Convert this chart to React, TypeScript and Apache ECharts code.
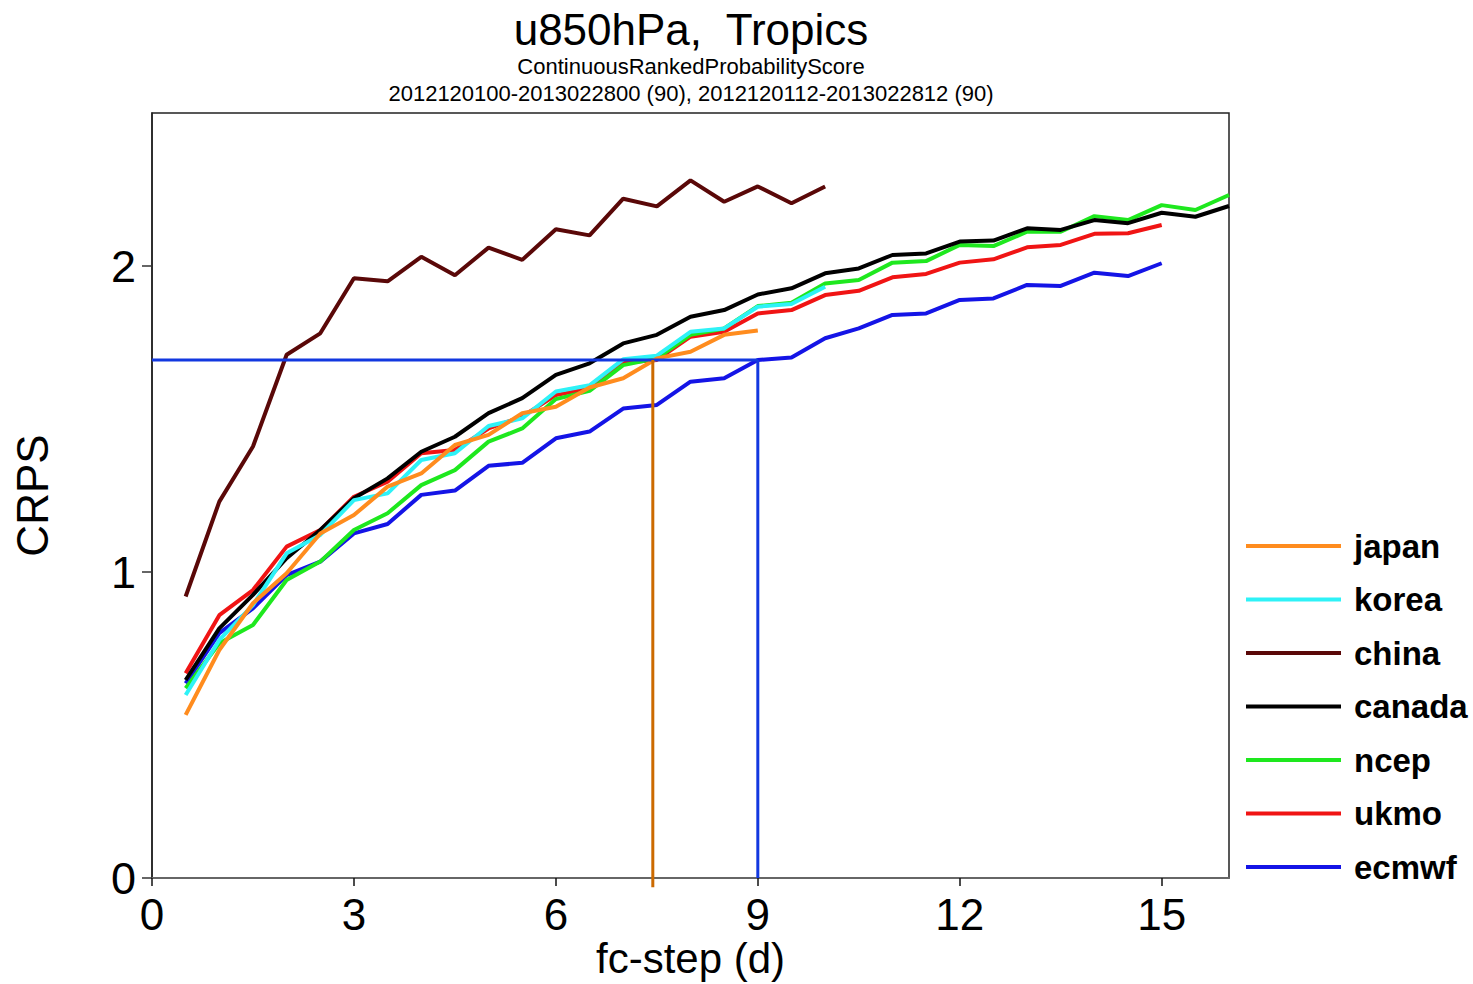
import React, { useEffect, useRef } from "react";
import * as echarts from "echarts";

const FONT = "'Liberation Sans', Arial, Helvetica, sans-serif";

// forecast step (days)
const DAYS = [0.5, 1, 1.5, 2, 2.5, 3, 3.5, 4, 4.5, 5, 5.5, 6, 6.5, 7, 7.5, 8, 8.5, 9, 9.5, 10, 10.5, 11, 11.5, 12, 12.5, 13, 13.5, 14, 14.5, 15, 15.5, 16];

const JAPAN = [0.533, 0.745, 0.898, 0.996, 1.126, 1.186, 1.279, 1.322, 1.415, 1.448, 1.519, 1.54, 1.603, 1.633, 1.698, 1.72, 1.775, 1.789];
const KOREA = [0.598, 0.778, 0.892, 1.061, 1.121, 1.235, 1.257, 1.366, 1.388, 1.477, 1.502, 1.59, 1.61, 1.695, 1.707, 1.785, 1.796, 1.867, 1.876, 1.932];
const CHINA = [0.92, 1.23, 1.41, 1.71, 1.78, 1.96, 1.95, 2.03, 1.97, 2.06, 2.02, 2.12, 2.1, 2.22, 2.195, 2.28, 2.21, 2.26, 2.205, 2.26];
const CANADA = [0.647, 0.816, 0.925, 1.045, 1.137, 1.241, 1.306, 1.393, 1.442, 1.519, 1.568, 1.644, 1.682, 1.747, 1.775, 1.834, 1.856, 1.907, 1.927, 1.976, 1.992, 2.036, 2.041, 2.08, 2.083, 2.123, 2.118, 2.15, 2.14, 2.174, 2.161, 2.196];
const NCEP = [0.62, 0.767, 0.827, 0.974, 1.034, 1.137, 1.192, 1.284, 1.333, 1.426, 1.469, 1.565, 1.592, 1.676, 1.698, 1.775, 1.796, 1.869, 1.88, 1.943, 1.954, 2.011, 2.016, 2.069, 2.065, 2.112, 2.112, 2.163, 2.15, 2.199, 2.183, 2.232];
const UKMO = [0.669, 0.859, 0.941, 1.083, 1.137, 1.246, 1.295, 1.388, 1.399, 1.469, 1.508, 1.578, 1.6, 1.684, 1.693, 1.769, 1.785, 1.845, 1.856, 1.905, 1.919, 1.963, 1.974, 2.011, 2.022, 2.061, 2.069, 2.105, 2.107, 2.134];
const ECMWF = [0.636, 0.8, 0.881, 0.99, 1.034, 1.126, 1.157, 1.252, 1.266, 1.347, 1.357, 1.437, 1.459, 1.534, 1.546, 1.622, 1.633, 1.693, 1.701, 1.764, 1.796, 1.84, 1.845, 1.889, 1.894, 1.938, 1.935, 1.978, 1.967, 2.009];

const LEGEND_ORDER = ["japan", "korea", "china", "canada", "ncep", "ukmo", "ecmwf"];
const DRAW_ORDER = ["ecmwf", "ukmo", "ncep", "canada", "china", "korea", "japan"];
const VALUES: Record<string, number[]> = {
  japan: JAPAN, korea: KOREA, china: CHINA, canada: CANADA, ncep: NCEP, ukmo: UKMO, ecmwf: ECMWF,
};
const COLORS: Record<string, string> = {
  japan: "#ff8c1e", korea: "#2ef2f7", china: "#5a0808", canada: "#000000",
  ncep: "#1ee81e", ukmo: "#f01414", ecmwf: "#1414e6",
};

const X_TICKS = [0, 3, 6, 9, 12, 15];
const Y_TICKS = [0, 1, 2];

// reference lines: ecmwf score at day 9, and the day japan reaches it
const REF_DAY = 9;
const JAPAN_CROSS_DAY = 7.44;

const TITLE = "u850hPa,  Tropics";
const SUBTITLE1 = "ContinuousRankedProbabilityScore";
const SUBTITLE2 = "2012120100-2013022800 (90), 2012120112-2013022812 (90)";

export default function App() {
  const ref = useRef<HTMLDivElement>(null);
  useEffect(() => {
    if (!ref.current) return;
    const chart = echarts.init(ref.current, undefined, { renderer: "svg" });
    const refLevel = ECMWF[DAYS.indexOf(REF_DAY)];

    const lineSeries = DRAW_ORDER.map((name) => ({
      name,
      type: "line",
      data: VALUES[name].map((v, i) => [DAYS[i], v]),
      showSymbol: false,
      symbol: "none",
      color: COLORS[name],
      lineStyle: { color: COLORS[name], width: 4 },
      z: 2,
    }));

    const refSeries = [
      {
        name: "ref-h", type: "line", symbol: "none", z: 3,
        data: [[0, refLevel], [REF_DAY, refLevel]],
        lineStyle: { color: "#1238e0", width: 3 },
      },
      {
        name: "ref-japan", type: "line", symbol: "none", z: 3, clip: false,
        data: [[JAPAN_CROSS_DAY, refLevel], [JAPAN_CROSS_DAY, -0.03]],
        lineStyle: { color: "#cc6a00", width: 3 },
      },
      {
        name: "ref-ecmwf", type: "line", symbol: "none", z: 3,
        data: [[REF_DAY, refLevel], [REF_DAY, 0]],
        lineStyle: { color: "#1238e0", width: 3 },
      },
    ];

    chart.setOption({
      animation: false,
      backgroundColor: "#ffffff",
      textStyle: { fontFamily: FONT },
      grid: {
        left: 152, right: 244, top: 113, bottom: 106,
        containLabel: false, outerBoundsMode: "none",
        show: true, borderColor: "#222", borderWidth: 1.5, backgroundColor: "transparent",
      },
      xAxis: {
        type: "value", min: 0, max: 16,
        axisLine: { show: true, lineStyle: { color: "#666", width: 2 } },
        axisTick: { show: true, length: 8, lineStyle: { color: "#111", width: 1.5 }, customValues: X_TICKS },
        axisLabel: { customValues: X_TICKS, fontSize: 44, lineHeight: 44, color: "#000", margin: 14, fontFamily: FONT },
        splitLine: { show: false },
        name: "fc-step (d)", nameLocation: "middle", nameGap: 59, nameMoveOverlap: false,
        nameTextStyle: { fontSize: 42, lineHeight: 42, color: "#000", fontFamily: FONT },
      },
      yAxis: {
        type: "value", min: 0, max: 2.5,
        axisLine: { show: true, lineStyle: { color: "#222", width: 1.5 } },
        axisTick: { show: true, length: 10, lineStyle: { color: "#333", width: 1.5 }, customValues: Y_TICKS },
        axisLabel: { customValues: Y_TICKS, fontSize: 45, color: "#000", margin: 16, fontFamily: FONT },
        splitLine: { show: false },
        name: "CRPS", nameLocation: "middle", nameGap: 98, nameMoveOverlap: false,
        nameTextStyle: { fontSize: 44, color: "#000", fontFamily: FONT },
      },
      legend: {
        orient: "vertical", left: 1246, top: 526, padding: 0,
        itemWidth: 95, itemHeight: 4, itemGap: 13.5,
        data: LEGEND_ORDER.map((name) => ({ name, icon: "rect" })),
        textStyle: { fontSize: 33, fontWeight: "bold", color: "#000", lineHeight: 40, fontFamily: FONT, padding: [0, 0, 0, 8] },
        selectedMode: false,
      },
      graphic: [
        { type: "text", x: 691, y: 29, style: { text: TITLE, fontSize: 44, fontFamily: FONT, fill: "#000", textAlign: "center", textVerticalAlign: "middle" } },
        { type: "text", x: 691, y: 66, style: { text: SUBTITLE1, fontSize: 22, fontFamily: FONT, fill: "#000", textAlign: "center", textVerticalAlign: "middle" } },
        { type: "text", x: 691, y: 93.5, style: { text: SUBTITLE2, fontSize: 22, fontFamily: FONT, fill: "#000", textAlign: "center", textVerticalAlign: "middle" } },
      ],
      series: [...lineSeries, ...refSeries],
    });
    return () => chart.dispose();
  }, []);
  return <div ref={ref} style={{ position: "absolute", left: 0, top: 0, width: 1473, height: 984 }} />;
}
